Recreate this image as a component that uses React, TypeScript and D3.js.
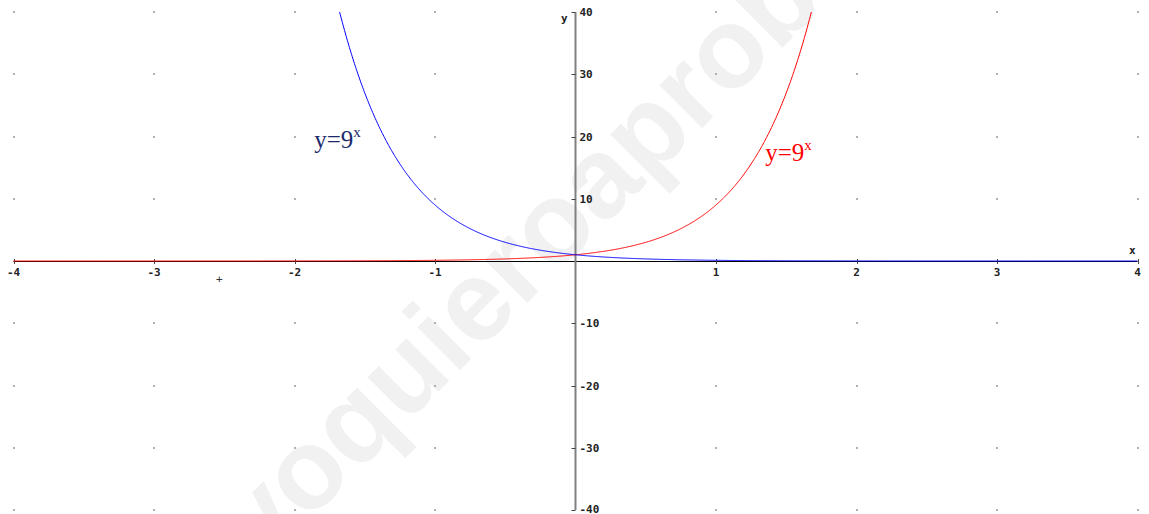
import React, { useEffect, useRef } from 'react';
import * as d3 from 'd3';

// function bases and drawn x-ranges of each curve
const curves = [
  { name: 'red', base: 9, sign: 1, from: -4, to: 4, color: '#ff0000' },
  { name: 'blue', base: 9, sign: -1, from: -4, to: 4, color: '#0000ff' },
];
const xTicks = [-4, -3, -2, -1, 1, 2, 3, 4];
const yTicks = [40, 30, 20, 10, -10, -20, -30, -40];
const gridX = [-4, -3, -2, -1, 1, 2, 3, 4];
const gridY = [40, 30, 20, 10, -10, -20, -30, -40];
const labels = [
  { x: -1.86, y: 18.2, text: 'y=9', sup: 'x', color: '#1c2a6b' },
  { x: 1.35, y: 16.1, text: 'y=9', sup: 'x', color: '#ff0000' },
];

const App = () => {
  const svgRef = useRef<SVGSVGElement>(null);

  useEffect(() => {
    const svg = d3.select(svgRef.current);
    svg.selectAll('*').remove();

    const width = 1149;
    const height = 514;

    const x = d3.scaleLinear().domain([-4, 4]).range([13.5, 1137.5]);
    const y = d3.scaleLinear().domain([-40, 40]).range([510, 12]);

    svg.attr('width', width).attr('height', height);
    svg.append('rect').attr('width', width).attr('height', height).attr('fill', '#fff');

    // watermark
    svg.append('text')
      .attr('transform', 'translate(262,568) rotate(-45)')
      .style('font-family', 'Liberation Sans, Arial, sans-serif')
      .style('font-size', '114px')
      .style('font-weight', 'bold')
      .attr('fill', '#f1f1f1')
      .text('yoquieroaprobar');

    // grid dots
    const dots = svg.append('g');
    gridX.forEach(gx => gridY.forEach(gy => {
      dots.append('rect')
        .attr('x', Math.round(x(gx)) - 1).attr('y', Math.round(y(gy)) - 1)
        .attr('width', 2).attr('height', 2)
        .attr('fill', '#b0b0b0');
    }));

    // x axis
    svg.append('line')
      .attr('x1', x(-4)).attr('x2', x(4))
      .attr('y1', y(0) + 0.5).attr('y2', y(0) + 0.5)
      .attr('stroke', '#000').attr('stroke-width', 1);
    xTicks.forEach(t => {
      svg.append('line')
        .attr('x1', Math.round(x(t)) + 0.5).attr('x2', Math.round(x(t)) + 0.5)
        .attr('y1', y(0) - 2).attr('y2', y(0) + 3)
        .attr('stroke', '#444');
      svg.append('text')
        .attr('x', x(t)).attr('y', y(0) + 15)
        .attr('text-anchor', 'middle')
        .style('font-family', 'DejaVu Sans Mono, monospace')
        .style('font-size', '11px').style('font-weight', 'bold')
        .attr('fill', '#222')
        .text(t < 0 ? '-' + Math.abs(t) : String(t));
    });

    // y axis
    svg.append('line')
      .attr('x1', x(0)).attr('x2', x(0))
      .attr('y1', y(40)).attr('y2', y(-40))
      .attr('stroke', '#808080').attr('stroke-width', 2);
    yTicks.forEach(t => {
      svg.append('line')
        .attr('x1', x(0) - 4).attr('x2', x(0))
        .attr('y1', Math.round(y(t)) + 0.5).attr('y2', Math.round(y(t)) + 0.5)
        .attr('stroke', '#444');
      svg.append('text')
        .attr('x', x(0) + 4).attr('y', Math.min(y(t) + 4, 513))
        .style('font-family', 'DejaVu Sans Mono, monospace')
        .style('font-size', '11px').style('font-weight', 'bold')
        .attr('fill', '#222')
        .text(t < 0 ? '-' + Math.abs(t) : String(t));
    });

    svg.append('text').attr('x', 561).attr('y', 22)
      .style('font-family', 'DejaVu Sans Mono, monospace')
      .style('font-size', '11px').style('font-weight', 'bold').attr('fill', '#222').text('y');
    svg.append('text').attr('x', 1129).attr('y', 254)
      .style('font-family', 'DejaVu Sans Mono, monospace')
      .style('font-size', '11px').style('font-weight', 'bold').attr('fill', '#222').text('x');
    svg.append('text').attr('x', 216).attr('y', 283)
      .style('font-family', 'DejaVu Sans Mono, monospace')
      .style('font-size', '11px').attr('fill', '#333').text('+');

    // curves
    const line = d3.line<[number, number]>().x(d => x(d[0])).y(d => y(d[1]));
    curves.forEach(c => {
      const xMax = Math.log(40) / Math.log(c.base);
      const lo = c.sign > 0 ? c.from : Math.max(c.from, -xMax);
      const hi = c.sign > 0 ? Math.min(c.to, xMax) : c.to;
      const pts: [number, number][] = d3.range(lo, hi, 0.005)
        .concat([hi])
        .map(v => [v, Math.pow(c.base, c.sign * v)]);
      svg.append('path')
        .attr('d', line(pts))
        .attr('fill', 'none')
        .attr('stroke', c.color)
        .attr('stroke-width', 1);
    });

    // curve labels
    labels.forEach(l => {
      const t = svg.append('text')
        .attr('x', x(l.x)).attr('y', y(l.y))
        .style('font-family', 'Liberation Serif, Times New Roman, serif')
        .style('font-size', '25px')
        .attr('fill', l.color);
      t.append('tspan').text(l.text);
      t.append('tspan').attr('dy', -11).style('font-size', '15px').text(l.sup);
    });
  }, []);

  return (
    <div style={{ position: 'fixed', left: 0, top: 0, width: 1149, height: 514, overflow: 'hidden' }}>
      <svg ref={svgRef} style={{ display: 'block' }} />
    </div>
  );
};

export default App;
